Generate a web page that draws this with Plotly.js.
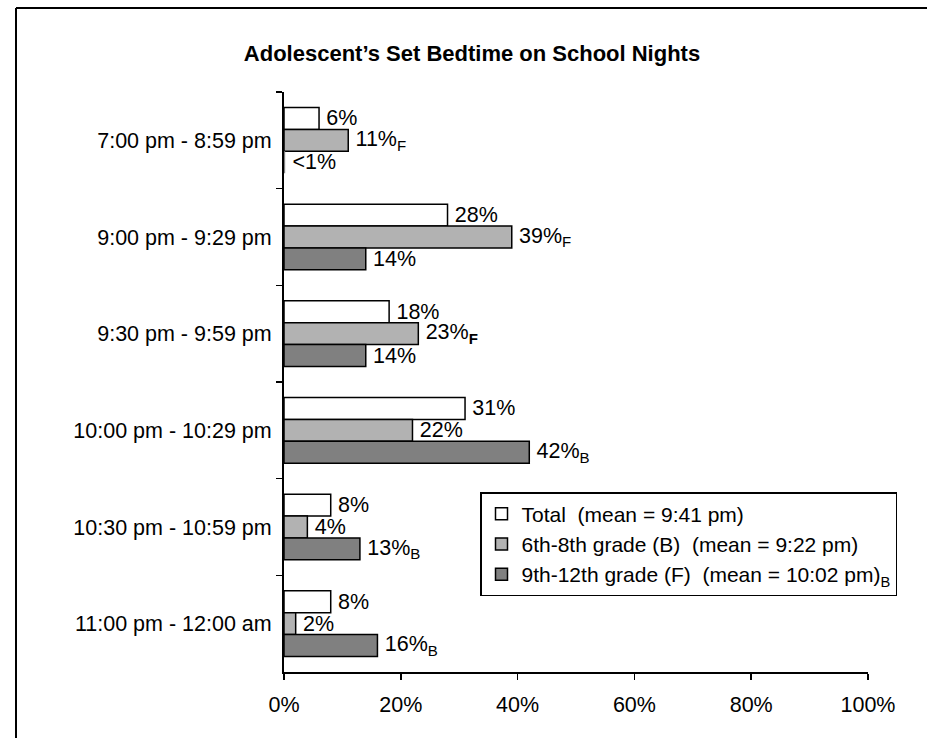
<!DOCTYPE html>
<html>
<head>
<meta charset="utf-8">
<script src="https://cdn.plot.ly/plotly-3.0.1.min.js"></script>
<style>
  html, body { margin: 0; padding: 0; background: #fff; }
  #chart { width: 927px; height: 738px; }
</style>
</head>
<body>
<div id="chart"></div>
<script>
// ---- data ----
const categories = [
  "7:00 pm - 8:59 pm",
  "9:00 pm - 9:29 pm",
  "9:30 pm - 9:59 pm",
  "10:00 pm - 10:29 pm",
  "10:30 pm - 10:59 pm",
  "11:00 pm - 12:00 am"
];
const seriesNames = [
  "Total\u00a0\u00a0(mean = 9:41 pm)",
  "6th-8th grade (B)\u00a0\u00a0(mean = 9:22 pm)",
  "9th-12th grade (F)\u00a0\u00a0(mean = 10:02 pm)<sub>B</sub>"
];
const totalValues = [6, 28, 18, 31, 8, 8];
const middleValues = [11, 39, 23, 22, 4, 2];
const highValues = [0.2, 14, 14, 42, 13, 16];

const totalLabels = ["6%", "28%", "18%", "31%", "8%", "8%"];
const middleLabels = ["11%<sub>F</sub>", "39%<sub>F</sub>", "23%<sub><b>F</b></sub>", "22%", "4%", "2%"];
const highLabels = ["&lt;1%", "14%", "14%", "42%<sub>B</sub>", "13%<sub>B</sub>", "16%<sub>B</sub>"];

const xTickVals = [0, 20, 40, 60, 80, 100];
const xTickText = ["0%", "20%", "40%", "60%", "80%", "100%"];

const chartTitle = "Adolescent\u2019s Set Bedtime on School Nights";

// ---- styling ----
const FONT = "Liberation Sans, Arial, sans-serif";
const FS = 21.5;
const colors = ["#ffffff", "#b2b2b2", "#808080"];
const allValues = [totalValues, middleValues, highValues];
const allLabels = [totalLabels, middleLabels, highLabels];
const rev = a => a.slice().reverse();

// points are passed bottom-to-top so the legend swatch takes its outline from a full-size bar
const traces = allValues.map((vals, i) => ({
  type: "bar",
  orientation: "h",
  name: seriesNames[i],
  legendgroup: "g" + i,
  y: rev(categories),
  x: rev(vals),
  text: rev(allLabels[i]).map(t => "\u2009" + t),
  textposition: "outside",
  constraintext: "none",
  cliponaxis: false,
  textfont: { family: FONT, size: FS, color: "#000" },
  marker: {
    color: colors[i],
    line: { color: "#000", width: rev(vals).map(v => (v < 1 ? 0 : 1.5)) }
  },
  hoverinfo: "skip"
}));

// plot area in pixels: x 284..868, y 92..672
const L = 284, R = 868, T = 92, B = 672;
const px2x = p => (p - L) / (R - L);
const px2y = p => (B - p) / (B - T);

const layout = {
  width: 927,
  height: 738,
  margin: { l: L, r: 927 - R, t: T, b: 738 - B, pad: 0 },
  paper_bgcolor: "#fff",
  plot_bgcolor: "#fff",
  font: { family: FONT, size: FS, color: "#000" },
  showlegend: true,
  barmode: "group",
  bargap: 0.32,
  bargroupgap: 0,
  title: {
    text: "<b>" + chartTitle + "</b>",
    font: { family: FONT, size: 22, color: "#000" },
    x: 472 / 927, xref: "container", xanchor: "center",
    y: 1 - 53 / 738, yref: "container", yanchor: "middle"
  },
  xaxis: {
    range: [0, 100],
    tickvals: xTickVals,
    ticktext: xTickText,
    showgrid: false,
    zeroline: false,
    showline: true,
    linecolor: "#000",
    linewidth: 2,
    ticks: "outside",
    ticklen: 6,
    tickwidth: 1.5,
    tickcolor: "#000",
    ticklabelstandoff: 6,
    tickfont: { family: FONT, size: FS, color: "#000" },
    fixedrange: true
  },
  yaxis: {
    type: "category",
    categoryorder: "array",
    categoryarray: categories,
    autorange: "reversed",
    showgrid: false,
    zeroline: false,
    showline: true,
    linecolor: "#000",
    linewidth: 2,
    ticks: "outside",
    tickson: "boundaries",
    ticklen: 6,
    tickwidth: 1.5,
    tickcolor: "#000",
    ticklabelstandoff: 6,
    tickfont: { family: FONT, size: FS, color: "#000" },
    fixedrange: true
  },
  legend: {
    x: px2x(480), y: px2y(492),
    xanchor: "left", yanchor: "top",
    bgcolor: "#fff",
    bordercolor: "#000",
    borderwidth: 1.5,
    font: { family: FONT, size: 21, color: "#000" },
    traceorder: "normal",
    tracegroupgap: 3
  },
  shapes: [
    { type: "line", xref: "paper", yref: "paper",
      x0: px2x(16), x1: px2x(16), y0: px2y(760), y1: px2y(8),
      line: { color: "#000", width: 2 } },
    { type: "line", xref: "paper", yref: "paper",
      x0: px2x(16), x1: px2x(960), y0: px2y(8), y1: px2y(8),
      line: { color: "#000", width: 2 } }
  ]
};

Plotly.newPlot("chart", traces, layout, { displayModeBar: false, staticPlot: true });
</script>
</body>
</html>
